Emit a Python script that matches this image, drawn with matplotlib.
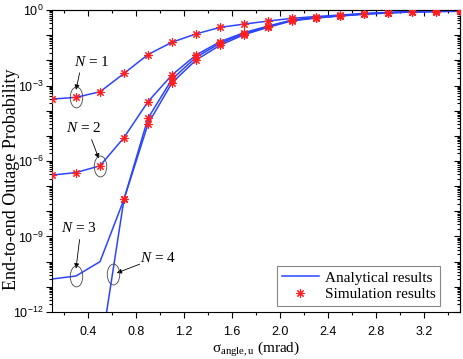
import matplotlib
matplotlib.use('Agg')
from matplotlib import pyplot as plt
from matplotlib.path import Path
from matplotlib.ticker import FixedLocator, FuncFormatter, NullFormatter
import numpy as np

# Datos (log10 de la probabilidad)
sigma = [0.1, 0.3, 0.5, 0.7, 0.9, 1.1, 1.3, 1.5, 1.7, 1.9, 2.1, 2.3, 2.5, 2.7, 2.9, 3.1, 3.3, 3.5]
log_n1 = [-3.54, -3.47, -3.25, -2.52, -1.77, -1.28, -0.95, -0.69, -0.56, -0.44,
          -0.33, -0.26, -0.20, -0.14, -0.10, -0.07, -0.05, -0.04]
log_n2 = [-6.56, -6.46, -6.19, -5.07, -3.64, -2.58, -1.79, -1.26, -0.90, -0.64,
          -0.40, -0.30, -0.22, -0.15, -0.10, -0.07, -0.05, -0.04]
log_n3 = [-10.69, -10.57, -10.0, -7.52, -4.30, -2.75, -1.88, -1.32, -0.94, -0.66,
          -0.41, -0.31, -0.23, -0.16, -0.11, -0.08, -0.06, -0.05]
log_n4 = [-26.0, -20.0, -13.7, -7.52, -4.53, -2.89, -1.99, -1.40, -0.98, -0.69,
          -0.43, -0.32, -0.24, -0.17, -0.12, -0.08, -0.06, -0.05]
# Índice del primer punto simulado para cada N
sim_start = [0, 0, 3, 3]
labels = ['$N$ = 1', '$N$ = 2', '$N$ = 3', '$N$ = 4']
x_major = [0.4, 0.8, 1.2, 1.6, 2.0, 2.4, 2.8, 3.2]
x_minor = [0.2, 0.6, 1.0, 1.4, 1.8, 2.2, 2.6, 3.0, 3.4]

plt.rcParams['mathtext.fontset'] = 'custom'
plt.rcParams['mathtext.rm'] = 'Liberation Serif'
plt.rcParams['mathtext.it'] = 'Liberation Serif:italic'

BLUE = '#2b45ff'
RED = '#ff1f1f'
SERIF = 'Liberation Serif'
SANS = 'Liberation Sans'

fig = plt.figure(figsize=(4.63, 3.59), dpi=100)
ax = fig.add_axes([52 / 463, 1 - 312 / 359, 408 / 463, 302 / 359])

star = (8, 2, 0)
curves = [log_n1, log_n2, log_n3, log_n4]
for i, logs in enumerate(curves):
    y = np.power(10.0, logs)
    ax.plot(sigma, y, color=BLUE, lw=1.1, zorder=2,
            label='Analytical results' if i == 0 else None)
    s = sim_start[i]
    ax.plot(sigma[s:], y[s:], ls='none', marker=star, ms=6, mew=0.8,
            color=RED, zorder=3, label='Simulation results' if i == 0 else None)

ax.set_yscale('log')
ax.set_xlim(0.1, 3.5)
ax.set_ylim(1e-12, 1)

# Ejes estilo Origin: marcas fuera abajo/izquierda, dentro arriba/derecha
y_major = [10.0 ** k for k in range(-12, 1)]
y_minor = [m * 10.0 ** k for k in range(-12, 0) for m in range(2, 10)]
ax.xaxis.set_major_locator(FixedLocator(x_major))
ax.xaxis.set_minor_locator(FixedLocator(x_minor))
ax.yaxis.set_major_locator(FixedLocator(y_major))
ax.yaxis.set_minor_locator(FixedLocator(y_minor))
ax.yaxis.set_minor_formatter(NullFormatter())


def fmt_y(v, pos):
    k = int(round(np.log10(v)))
    if k % 3 != 0:
        return ''
    return r'$\mathregular{10^{%d}}$' % k


ax.yaxis.set_major_formatter(FuncFormatter(fmt_y))
ax.xaxis.set_major_formatter(FuncFormatter(lambda v, p: '%.1f' % v))
ax.tick_params(which='both', direction='out', width=0.8, labelsize=9)
ax.tick_params(which='major', length=4)
ax.tick_params(which='minor', length=2.5)
ax.tick_params(axis='x', pad=6)
ax.tick_params(axis='y', pad=2)
for lab in ax.get_xticklabels() + ax.get_yticklabels():
    lab.set_fontfamily(SANS)

top = ax.secondary_xaxis('top')
top.xaxis.set_major_locator(FixedLocator(x_major))
top.xaxis.set_minor_locator(FixedLocator(x_minor))
top.tick_params(which='both', direction='in', labeltop=False, width=0.8)
top.tick_params(which='major', length=4)
top.tick_params(which='minor', length=2.5)
right = ax.secondary_yaxis('right')
right.set_yscale('log')
right.yaxis.set_major_locator(FixedLocator(y_major))
right.yaxis.set_minor_locator(FixedLocator(y_minor))
right.yaxis.set_minor_formatter(NullFormatter())
right.tick_params(which='both', direction='in', labelright=False, width=0.8)
right.tick_params(which='major', length=4)
right.tick_params(which='minor', length=2.5)

ax.set_xlabel(r'σ$_{\mathregular{angle,u}}$ (mrad)', fontfamily=SERIF, fontsize=11, labelpad=1.5)
fig.text(12 / 463, 1 - 179 / 359, 'End-to-end Outage Probability', rotation=90,
         ha='center', va='center', fontfamily=SERIF, fontsize=13)

# Elipses y flechas de anotación
ellipse = Path.unit_circle().transformed(matplotlib.transforms.Affine2D().scale(0.6, 1.0))
marks = [(0.3, log_n1[1]), (0.5, log_n2[2]), (0.3, log_n3[1]), (0.605, -10.49)]
texts = [(0.43, -2.07), (0.36, -4.69), (0.32, -8.66), (0.98, -9.85)]
arrow_from = [(0.33, -2.5), (0.43, -5.15), (0.33, -9.12), (0.83, -10.1)]
arrow_to = [(0.3, -3.17), (0.49, -5.9), (0.3, -10.27), (0.64, -10.45)]
for lab, (mx, my), (tx, ty), (x0, y0), (x1, y1) in zip(labels, marks, texts, arrow_from, arrow_to):
    ax.plot([mx], [10.0 ** my], ls='none', marker=ellipse, ms=15, mfc='none',
            mec='#444444', mew=0.6, zorder=4)
    ax.text(tx, 10.0 ** ty, lab, ha='center', va='center', fontfamily=SERIF, fontsize=11)
    ax.annotate('', xy=(x1, 10.0 ** y1), xytext=(x0, 10.0 ** y0),
                arrowprops=dict(arrowstyle='-|>', color='black', lw=0.6,
                                mutation_scale=7, shrinkA=0, shrinkB=0))

leg = ax.legend(loc='lower right', bbox_to_anchor=(0.951, 0.02),
                prop={'family': SERIF, 'size': 11}, frameon=True,
                fancybox=False, edgecolor='#888888', framealpha=1, borderpad=0.3,
                handlelength=2.4, handletextpad=0.4, labelspacing=0.2,
                borderaxespad=0)
leg.get_frame().set_linewidth(0.8)

fig.savefig('out.png', dpi=100)
plt.close(fig)
